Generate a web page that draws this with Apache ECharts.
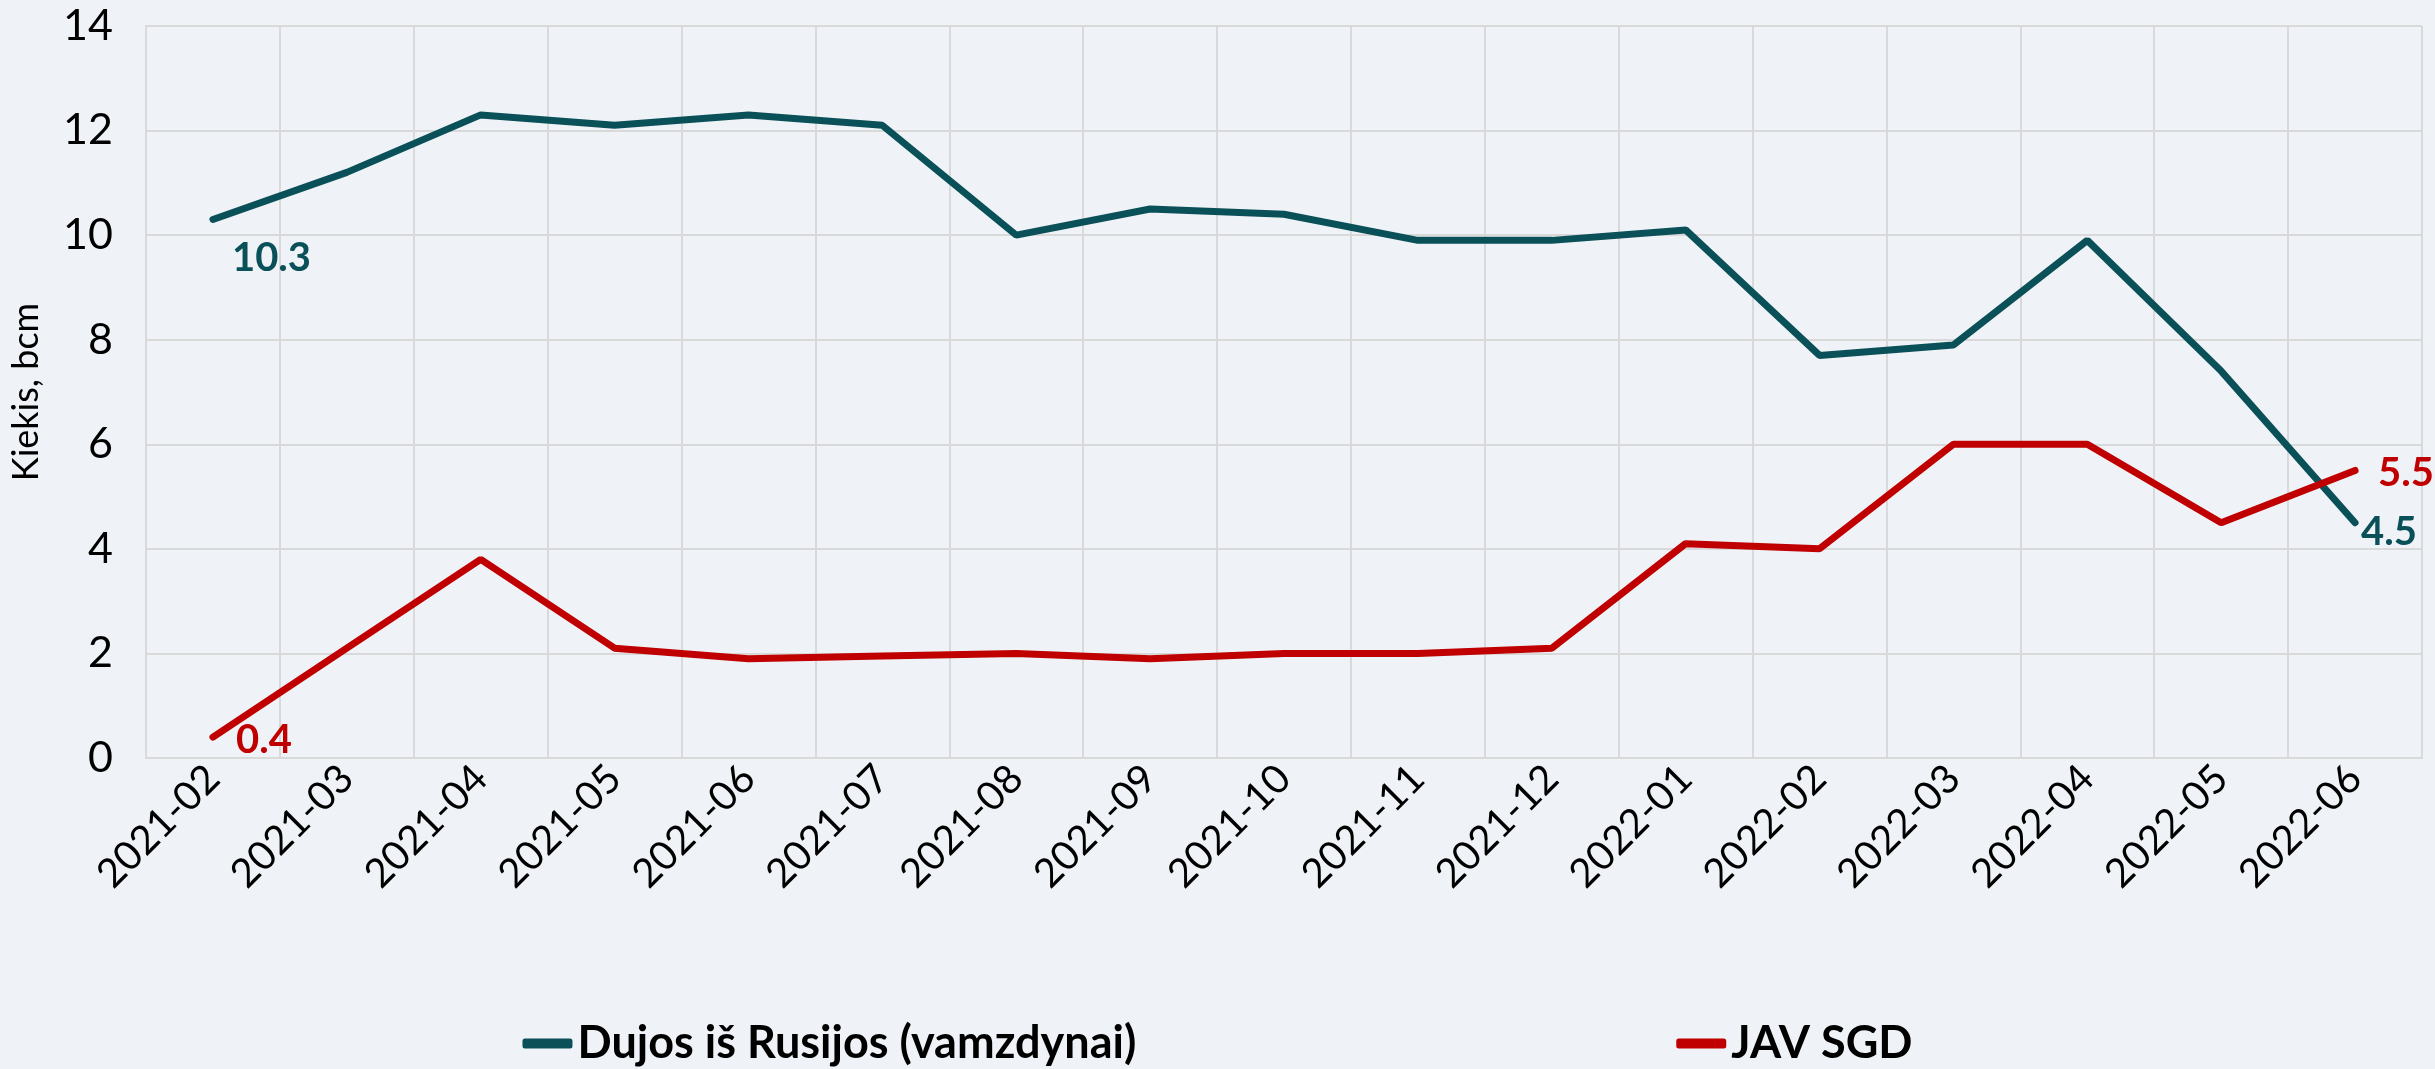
<!DOCTYPE html>
<html>
<head>
<meta charset="utf-8">
<script src="https://cdn.jsdelivr.net/npm/echarts@6/dist/echarts.min.js"></script>
<style>
  html, body { margin: 0; padding: 0; background: #eff3f7; }
  #chart { width: 2435px; height: 1069px; }
</style>
</head>
<body>
<div id="chart"></div>
<script>
const months = ['2021-02', '2021-03', '2021-04', '2021-05', '2021-06', '2021-07', '2021-08', '2021-09',
  '2021-10', '2021-11', '2021-12', '2022-01', '2022-02', '2022-03', '2022-04', '2022-05', '2022-06']
const russiaPipeline = [10.3, 11.2, 12.3, 12.1, 12.3, 12.1, 10.0, 10.5, 10.4, 9.9, 9.9, 10.1, 7.7, 7.9, 9.9, 7.4, 4.5]
const usLng = [0.4, 2.1, 3.8, 2.1, 1.9, 1.95, 2.0, 1.9, 2.0, 2.0, 2.1, 4.1, 4.0, 6.0, 6.0, 4.5, 5.5]
const seriesNames = ['Dujos iš Rusijos (vamzdynai)', 'JAV SGD']

const font = 'Lato'
const teal = '#0a5058'
const red = '#c00000'

// only first and last points carry a label
const withEndLabels = (values, color, firstOffset, lastOffset) =>
  values.map((v, i) => {
    if (i === 0 || i === values.length - 1) {
      return {
        value: v,
        label: {
          show: true,
          position: 'right',
          distance: 8,
          offset: i === 0 ? firstOffset : lastOffset,
          color: color,
          fontFamily: font,
          fontWeight: 'bold',
          fontSize: 40,
          formatter: (p) => p.value.toFixed(1)
        }
      }
    }
    return v
  })

const chart = echarts.init(document.getElementById('chart'))
const option = {
  backgroundColor: '#eff3f7',
  animation: false,
  grid: {
    left: 145,
    right: 13,
    top: 26,
    bottom: 311
  },
  legend: {
    data: seriesNames,
    bottom: -2,
    left: 'center',
    itemGap: 540,
    itemWidth: 50,
    itemHeight: 10,
    icon: 'roundRect',
    textStyle: {
      fontFamily: font,
      fontWeight: 'bold',
      fontSize: 45,
      color: '#000'
    }
  },
  xAxis: {
    type: 'category',
    data: months,
    boundaryGap: true,
    axisLine: { lineStyle: { color: '#d9d9d9', width: 2 } },
    axisTick: { show: false },
    splitLine: { show: true, lineStyle: { color: '#d9d9d9', width: 2 } },
    axisLabel: {
      rotate: 45,
      margin: 14,
      interval: 0,
      fontFamily: font,
      fontSize: 40,
      color: '#000'
    }
  },
  yAxis: {
    type: 'value',
    min: 0,
    max: 14,
    interval: 2,
    name: 'Kiekis, bcm',
    nameLocation: 'middle',
    nameGap: 102,
    nameTextStyle: {
      fontFamily: font,
      fontSize: 36,
      color: '#000'
    },
    axisLine: { show: true, lineStyle: { color: '#d9d9d9', width: 2 } },
    axisTick: { show: false },
    splitLine: { lineStyle: { color: '#d9d9d9', width: 2 } },
    axisLabel: {
      margin: 33,
      fontFamily: font,
      fontSize: 43,
      color: '#000'
    }
  },
  series: [
    {
      name: seriesNames[0],
      type: 'line',
      data: withEndLabels(russiaPipeline, teal, [11, 39], [-2, 9]),
      symbol: 'circle',
      symbolSize: 0,
      showSymbol: true,
      color: teal,
      lineStyle: { width: 7, color: teal, cap: 'round' }
    },
    {
      name: seriesNames[1],
      type: 'line',
      data: withEndLabels(usLng, red, [15, 3], [15, 3]),
      symbol: 'circle',
      symbolSize: 0,
      showSymbol: true,
      color: red,
      lineStyle: { width: 7, color: red, cap: 'round' }
    }
  ]
}
chart.setOption(option)
</script>
</body>
</html>
